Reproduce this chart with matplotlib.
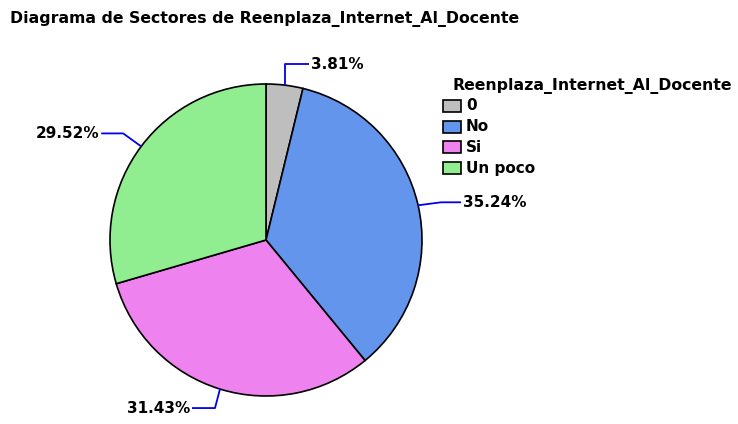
import numpy as np
import matplotlib
matplotlib.use("Agg")
import matplotlib.pyplot as plt
from matplotlib.patches import Rectangle

categories = ["0", "No", "Si", "Un poco"]
percentages = [3.81, 35.24, 31.43, 29.52]
colors = ["#BEBEBE", "#6495ED", "#EE82EE", "#90EE90"]
title = "Diagrama de Sectores de Reenplaza_Internet_Al_Docente"
legend_title = "Reenplaza_Internet_Al_Docente"

W, H = 738, 424
plt.rcParams['font.family'] = ['DejaVu Sans']

fig = plt.figure(figsize=(W / 100, H / 100), dpi=100)
ax = fig.add_axes([0, 0, 1, 1])

def Y(yp):
    return H - yp

cx, cy, r = 266, Y(240), 156
wedges, _ = ax.pie(percentages, colors=colors, startangle=90, counterclock=False,
                   center=(cx, cy), radius=r,
                   wedgeprops=dict(edgecolor="black", linewidth=1.2))
ax.set_xlim(0, W)
ax.set_ylim(0, H)
ax.set_aspect('auto')
ax.axis('off')

# leader line layout: (elbow offset, end offset) relative to edge point, text side
leader = [
    ((0, 21), (24, 21), 'left'),
    ((23, 3), (43, 3), 'left'),
    ((-5, -19), (-28, -19), 'right'),
    ((-18, 13), (-40, 13), 'right'),
]
for w, pct, (e1, e2, side) in zip(wedges, percentages, leader):
    ang = np.deg2rad((w.theta1 + w.theta2) / 2)
    x0 = cx + r * np.cos(ang)
    y0 = cy + r * np.sin(ang)
    xs = [x0, x0 + e1[0], x0 + e2[0]]
    ys = [y0, y0 + e1[1], y0 + e2[1]]
    ax.plot(xs, ys, color="#0000EE", lw=1.3, solid_capstyle='butt')
    tx = xs[-1] + (2 if side == 'left' else -2)
    ax.text(tx, ys[-1], f"{pct:.2f}%", ha=side, va='center',
            fontsize=11, fontweight='bold')

fig.text(10 / W, Y(19) / H, title, ha='left', va='center', fontsize=11.3, fontweight='bold')

# legend
ax.text(453, Y(86), legend_title, ha='left', va='center', fontsize=11.3, fontweight='bold')
for i, (cat, col) in enumerate(zip(categories, colors)):
    yc = Y(106 + i * 20.7)
    ax.add_patch(Rectangle((443, yc - 6), 18, 12, facecolor=col, edgecolor='black', lw=1.2))
    ax.text(466, yc, cat, ha='left', va='center', fontsize=11, fontweight='bold')

fig.savefig("out.png", dpi=100)
